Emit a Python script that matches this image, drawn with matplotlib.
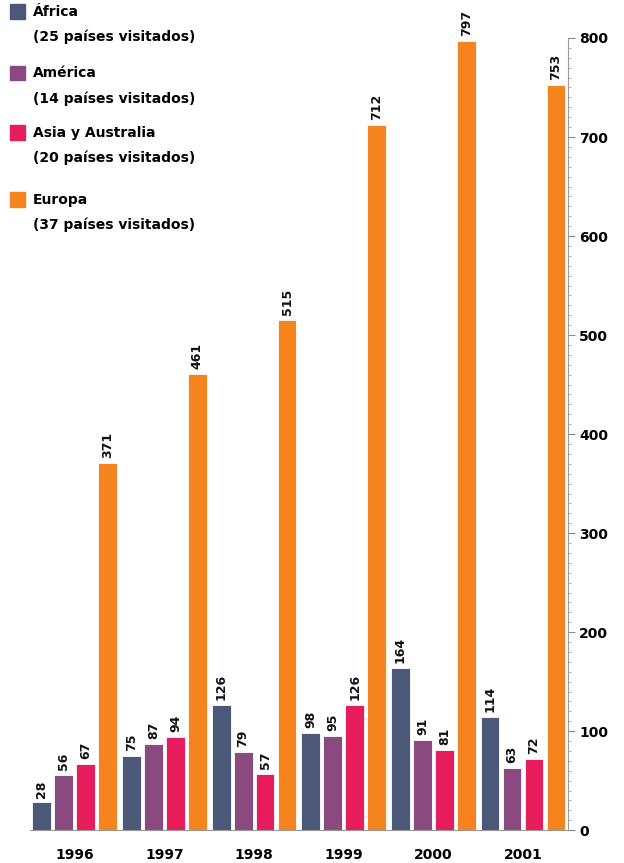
import numpy as np
import matplotlib
matplotlib.use("Agg")
import matplotlib.pyplot as plt
from matplotlib.ticker import MultipleLocator

plt.rcParams['font.family'] = ['DejaVu Sans']

# data
years = ["1996", "1997", "1998", "1999", "2000", "2001"]
africa = [28, 75, 126, 98, 164, 114]
america = [56, 87, 79, 95, 91, 63]
asia = [67, 94, 57, 126, 81, 72]
europa = [371, 461, 515, 712, 797, 753]

names = ["África", "América", "Asia y Australia", "Europa"]
notes = ["(25 países visitados)", "(14 países visitados)",
         "(20 países visitados)", "(37 países visitados)"]
colors = ["#4b5878", "#8a4a80", "#e61c5c", "#f5841f"]

series = [africa, america, asia, europa]

fig = plt.figure(figsize=(6.24, 8.63), dpi=100)
ax = fig.add_axes([0.048, 0.038, 0.862, 0.918])

x = np.arange(len(years))
w = 0.21
step = 0.245
for k, vals in enumerate(series):
    pos = x + (k - 1.5) * step
    ax.bar(pos, vals, width=w, color=colors[k], edgecolor="white", linewidth=0.6)
    for p, v in zip(pos, vals):
        ax.text(p, v + 5, str(v), rotation=90, ha="center", va="bottom",
                fontsize=9, fontweight="bold", color="#111111", clip_on=False)

ax.set_xlim(-0.5, 5.5)
ax.set_ylim(0, 800)

# right side axis
ax.yaxis.tick_right()
ax.set_yticks(np.arange(0, 801, 100))
ax.yaxis.set_minor_locator(MultipleLocator(10))
ax.tick_params(axis="y", which="major", length=5, color="#888888", pad=3,
               labelsize=10)
ax.tick_params(axis="y", which="minor", length=2, color="#aaaaaa", width=0.6)
for lab in ax.get_yticklabels():
    lab.set_fontweight("bold")
ax.set_xticks(x)
ax.set_xticklabels(years, fontsize=10, fontweight="bold")
ax.tick_params(axis="x", length=0, pad=13)

for s in ["top", "left"]:
    ax.spines[s].set_visible(False)
ax.spines["right"].set_color("#999999")
ax.spines["right"].set_linestyle((0, (1, 1)))
ax.spines["bottom"].set_color("#999999")
ax.spines["bottom"].set_linestyle((0, (1, 1)))

# legend drawn as squares with two-line text
leg_y = [0.986, 0.915, 0.846, 0.768]
for k in range(4):
    fig.patches.append(plt.Rectangle((0.016, leg_y[k] - 0.008), 0.024, 0.017,
                                     transform=fig.transFigure, color=colors[k]))
    fig.text(0.053, leg_y[k], names[k], fontsize=10, fontweight="bold",
             va="center", ha="left")
    fig.text(0.053, leg_y[k] - 0.029, notes[k], fontsize=10, fontweight="bold",
             va="center", ha="left")

fig.savefig("out.png", dpi=100)
